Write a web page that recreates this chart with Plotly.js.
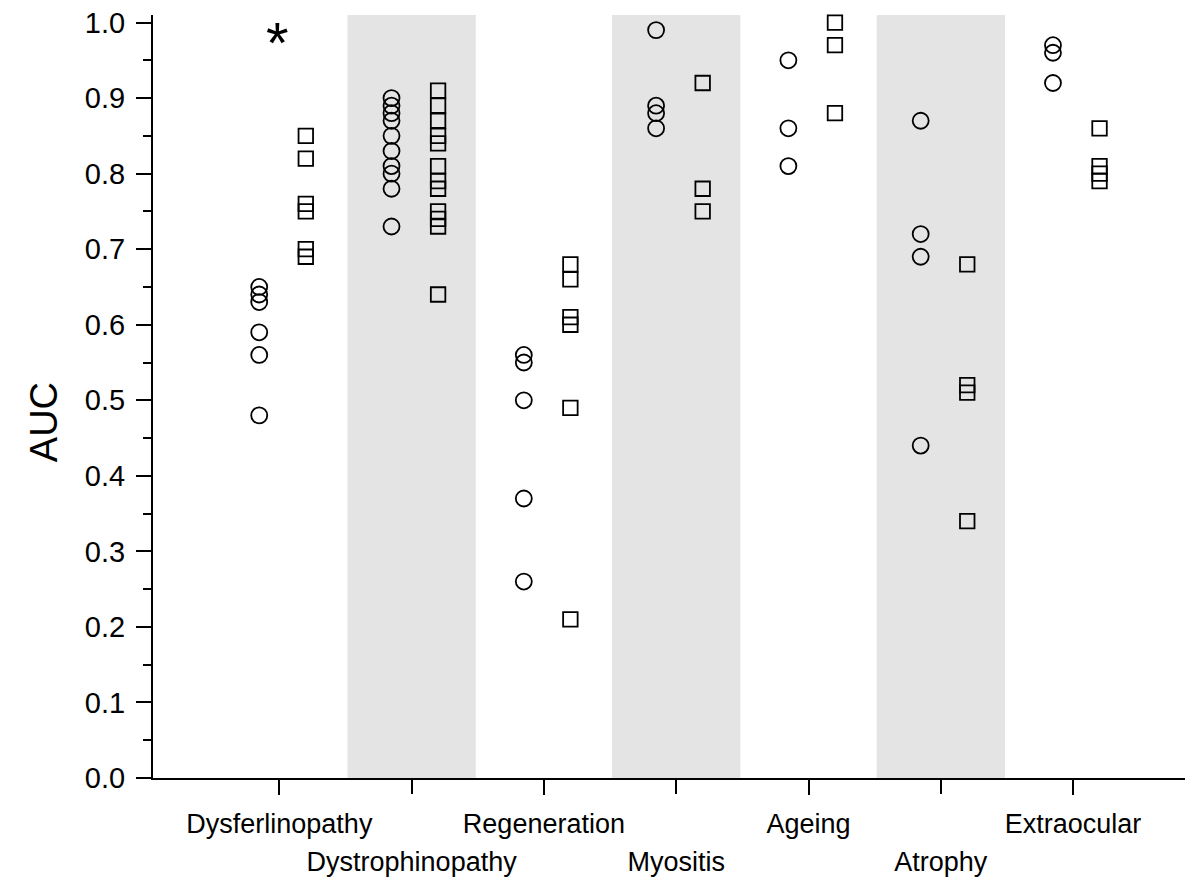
<!DOCTYPE html>
<html>
<head>
<meta charset="utf-8">
<script src="https://cdn.plot.ly/plotly-3.0.1.min.js"></script>
<style>html,body{margin:0;padding:0;background:#fff;}#chart{width:1200px;height:877px;}</style>
</head>
<body>
<div id="chart"></div>
<script>
// Categories (x axis)
const categories = ['Dysferlinopathy','Dystrophinopathy','Regeneration','Myositis','Ageing','Atrophy','Extraocular'];

// AUC values, circle series (one array per category)
const circlesDysferlinopathy  = [0.65, 0.64, 0.63, 0.59, 0.56, 0.48];
const circlesDystrophinopathy = [0.90, 0.89, 0.88, 0.87, 0.85, 0.83, 0.81, 0.80, 0.78, 0.73];
const circlesRegeneration     = [0.56, 0.55, 0.50, 0.37, 0.26];
const circlesMyositis         = [0.99, 0.89, 0.88, 0.86];
const circlesAgeing           = [0.95, 0.86, 0.81];
const circlesAtrophy          = [0.87, 0.72, 0.69, 0.44];
const circlesExtraocular      = [0.97, 0.96, 0.92];

// AUC values, square series (one array per category)
const squaresDysferlinopathy  = [0.85, 0.82, 0.76, 0.75, 0.70, 0.69];
const squaresDystrophinopathy = [0.91, 0.89, 0.87, 0.85, 0.84, 0.81, 0.79, 0.78, 0.75, 0.74, 0.73, 0.64];
const squaresRegeneration     = [0.68, 0.66, 0.61, 0.60, 0.49, 0.21];
const squaresMyositis         = [0.92, 0.78, 0.75];
const squaresAgeing           = [1.00, 0.97, 0.88];
const squaresAtrophy          = [0.68, 0.52, 0.51, 0.34];
const squaresExtraocular      = [0.86, 0.81, 0.80, 0.79];

// Y tick values
const yTickValues = [0.0, 0.1, 0.2, 0.3, 0.4, 0.5, 0.6, 0.7, 0.8, 0.9, 1.0];

// Axis title and significance marker
const yTitle = 'AUC';
const starCategory = 'Dysferlinopathy';
const starValue = 0.985;

const circleGroups = [circlesDysferlinopathy, circlesDystrophinopathy, circlesRegeneration,
  circlesMyositis, circlesAgeing, circlesAtrophy, circlesExtraocular];
const squareGroups = [squaresDysferlinopathy, squaresDystrophinopathy, squaresRegeneration,
  squaresMyositis, squaresAgeing, squaresAtrophy, squaresExtraocular];

// horizontal placement within each category (style)
const circleOffset = -0.152;
const squareOffset = 0.2;

function flatten(groups, offset) {
  const xs = [], ys = [];
  groups.forEach((vals, i) => vals.forEach(v => { xs.push(i + offset); ys.push(v); }));
  return {xs, ys};
}
const c = flatten(circleGroups, circleOffset);
const s = flatten(squareGroups, squareOffset);

const FONT = 'Liberation Sans, Arial, sans-serif';

const traces = [
  {type: 'scatter', mode: 'markers', x: c.xs, y: c.ys, cliponaxis: false, xaxis: 'x', yaxis: 'y',
   marker: {symbol: 'circle-open', size: 16, color: '#000', line: {width: 1.8, color: '#000'}}},
  {type: 'scatter', mode: 'markers', x: s.xs, y: s.ys, cliponaxis: false, xaxis: 'x2', yaxis: 'y',
   marker: {symbol: 'square-open', size: 14.5, color: '#000', line: {width: 1.8, color: '#000'}}}
];

const evenIdx = categories.map((_, i) => i).filter(i => i % 2 === 0);
const oddIdx = categories.map((_, i) => i).filter(i => i % 2 === 1);

const shapes = oddIdx.map(i => ({
  type: 'rect', xref: 'x', yref: 'paper', x0: i - 0.485, x1: i + 0.485, y0: 0, y1: 1,
  fillcolor: '#e4e4e4', line: {width: 0}, layer: 'below'
}));

const xRange = [-0.955, 6.846];
const tickFont = {family: FONT, size: 27, color: '#000'};

const layout = {
  width: 1200, height: 877,
  margin: {l: 153, r: 15, t: 15, b: 99},
  paper_bgcolor: '#fff', plot_bgcolor: '#fff',
  showlegend: false, hovermode: false,
  font: {family: FONT, color: '#000'},
  xaxis: {
    range: xRange, tickmode: 'array',
    tickvals: evenIdx, ticktext: evenIdx.map(i => categories[i]),
    ticks: 'outside', ticklen: 15, tickwidth: 2, tickcolor: '#000',
    showline: true, linewidth: 2, linecolor: '#000',
    showgrid: false, zeroline: false,
    tickfont: tickFont, ticklabelstandoff: 6
  },
  xaxis2: {
    overlaying: 'x', anchor: 'y', side: 'bottom',
    range: xRange, tickmode: 'array',
    tickvals: oddIdx, ticktext: oddIdx.map(i => categories[i]),
    ticks: 'outside', ticklen: 15, tickwidth: 2, tickcolor: '#000',
    showline: false, showgrid: false, zeroline: false,
    tickfont: tickFont, ticklabelstandoff: 45
  },
  yaxis: {
    range: [0, 1.01], tickmode: 'array', tickvals: yTickValues,
    ticktext: yTickValues.map(v => v.toFixed(1)),
    ticks: 'outside', ticklen: 15, tickwidth: 2, tickcolor: '#000',
    minor: {tickmode: 'linear', tick0: 0, dtick: 0.05, ticks: 'outside', ticklen: 8, tickwidth: 2, tickcolor: '#000', showgrid: false},
    showline: true, linewidth: 2, linecolor: '#000',
    showgrid: false, zeroline: false,
    tickfont: {family: FONT, size: 29, color: '#000'},
    ticklabelstandoff: 5
  },
  shapes: shapes,
  annotations: [
    {
      xref: 'x', yref: 'y', x: categories.indexOf(starCategory), y: starValue,
      text: '*', showarrow: false, font: {family: FONT, size: 58, color: '#000'},
      xanchor: 'center', yanchor: 'middle', yshift: -9, xshift: -2
    },
    {
      xref: 'paper', yref: 'y', x: -0.1056, y: 0.471,
      text: yTitle, showarrow: false, textangle: -90,
      font: {family: FONT, size: 38, color: '#000'},
      xanchor: 'center', yanchor: 'middle'
    }
  ]
};

Plotly.newPlot('chart', traces, layout, {staticPlot: true, displayModeBar: false});
</script>
</body>
</html>
